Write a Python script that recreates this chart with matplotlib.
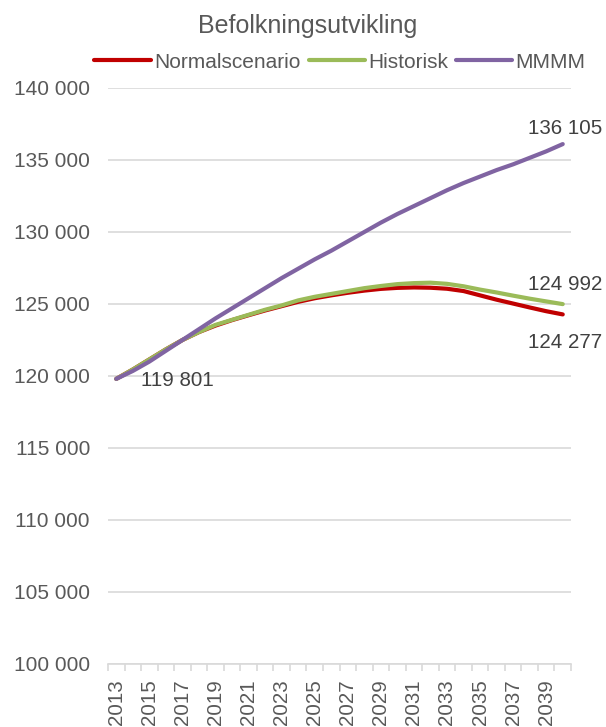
import matplotlib
matplotlib.use("Agg")
import matplotlib.pyplot as plt
import numpy as np

plt.rcParams['font.family'] = ['Liberation Sans', 'DejaVu Sans']

years = list(range(2013, 2041))
normal = [119801, 120450, 121150, 121850, 122500, 123050, 123500, 123880, 124220, 124550,
          124850, 125150, 125400, 125600, 125780, 125930, 126050, 126120, 126150, 126130,
          126060, 125900, 125600, 125300, 125030, 124760, 124500, 124277]
historisk = [119801, 120450, 121150, 121850, 122500, 123050, 123550, 123900, 124250, 124600,
             124900, 125250, 125500, 125700, 125900, 126100, 126250, 126380, 126450, 126480,
             126400, 126230, 126000, 125800, 125580, 125370, 125180, 124992]
mmmm = [119801, 120350, 121000, 121750, 122500, 123250, 124000, 124700, 125400, 126100,
        126800, 127450, 128100, 128700, 129350, 130000, 130650, 131250, 131800, 132350,
        132900, 133400, 133850, 134300, 134700, 135150, 135600, 136105]
series_names = ['Normalscenario', 'Historisk', 'MMMM']
colors = ['#C00000', '#9BBB59', '#8064A2']
yticks = [100000, 105000, 110000, 115000, 120000, 125000, 130000, 135000, 140000]
title = 'Befolkningsutvikling'

def fmt(v):
    return f"{v:,}".replace(",", " ")

W, H = 606, 727
fig = plt.figure(figsize=(W / 100, H / 100), dpi=100)
ax = fig.add_axes([108 / W, (H - 664) / H, 463 / W, 576 / H])

x = np.arange(len(years))
text_c = '#595959'
for data, name, c in zip([normal, historisk, mmmm], series_names, colors):
    ax.plot(x, data, color=c, lw=3.0, label=name, solid_capstyle='round',
            solid_joinstyle='round')

ax.set_xlim(-0.5, len(years) - 0.5)
ax.set_ylim(yticks[0], yticks[-1])
ax.set_yticks(yticks)
ax.set_yticklabels([fmt(v) for v in yticks])
ax.grid(axis='y', color='#D9D9D9', lw=1.2)
ax.set_axisbelow(True)

ax.set_xticks(x[::2])
ax.set_xticklabels([str(y) for y in years[::2]], rotation=90)
ax.set_xticks(np.arange(-0.5, len(years)), minor=True)
ax.tick_params(axis='x', which='major', length=0, pad=11, labelsize=14.8, labelcolor=text_c)
ax.tick_params(axis='x', which='minor', length=5, color='#D9D9D9', width=1.2)
ax.tick_params(axis='y', length=0, pad=13, labelsize=15, labelcolor=text_c)

for s in ['left', 'right', 'top']:
    ax.spines[s].set_visible(False)
ax.spines['bottom'].set_color('#D9D9D9')
ax.spines['bottom'].set_linewidth(1.2)

lab_c = '#404040'
ax.annotate(fmt(normal[0]), (x[0], normal[0]), xytext=(25, -2), textcoords='offset pixels',
            ha='left', va='center', fontsize=14.8, color=lab_c)
ax.annotate(fmt(mmmm[-1]), (x[-1], mmmm[-1]), xytext=(2, 16), textcoords='offset pixels',
            ha='center', va='center', fontsize=14.8, color=lab_c, annotation_clip=False)
ax.annotate(fmt(historisk[-1]), (x[-1], historisk[-1]), xytext=(2, 20), textcoords='offset pixels',
            ha='center', va='center', fontsize=14.8, color=lab_c, annotation_clip=False)
ax.annotate(fmt(normal[-1]), (x[-1], normal[-1]), xytext=(2, -28), textcoords='offset pixels',
            ha='center', va='center', fontsize=14.8, color=lab_c, annotation_clip=False)

fig.text(308 / W, 1 - 26 / H, title, ha='center', va='center', fontsize=18, color=text_c)
leg = fig.legend(loc='center', bbox_to_anchor=(340 / W, 1 - 62 / H), ncol=3, frameon=False,
                 fontsize=15, handlelength=2.7, handletextpad=0.15, columnspacing=0.4,
                 labelcolor=text_c)

fig.savefig('out.png', dpi=100)
